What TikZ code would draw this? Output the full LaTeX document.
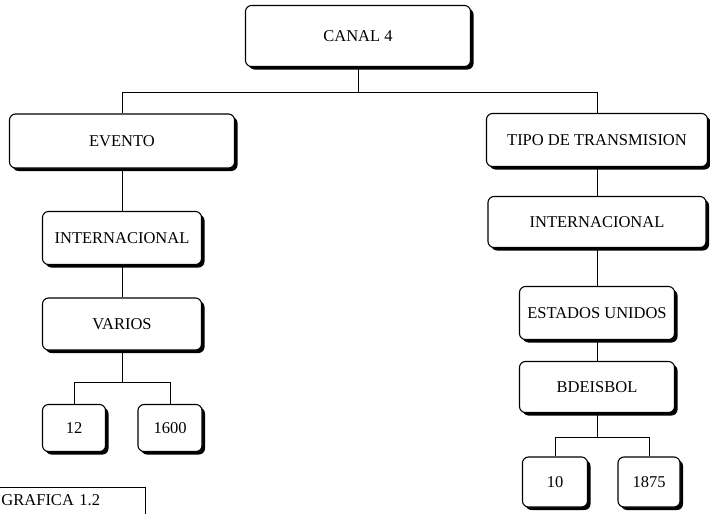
\documentclass[tikz,border=0pt]{standalone}
\usepackage{fontspec}
\setmainfont{Liberation Serif}
\usepackage{tikz}
\usetikzlibrary{shadows}
\usepackage{xcolor}

\tikzset{
  caja/.style={draw,line width=1.1pt,rounded corners=6pt,fill=white,
    drop shadow={shadow xshift=3pt,shadow yshift=-3pt,fill=black,opacity=1},
    font=\fontsize{16.5}{19}\selectfont},
  linea/.style={line width=1pt}
}

\begin{document}
\begin{tikzpicture}[x=1pt,y=-1pt]
\useasboundingbox (0,0) rectangle (710,514);
\clip (0,0) rectangle (710,514);
\node[caja,minimum width=225pt,minimum height=61pt] (canal) at (358,36) {CANAL 4};
\node[caja,minimum width=225pt,minimum height=54pt] (evento) at (122,141) {EVENTO};
\node[caja,minimum width=221pt,minimum height=53pt] (tipo) at (597,140) {TIPO DE TRANSMISION};
\node[caja,minimum width=159pt,minimum height=53pt] (intizq) at (122,238) {INTERNACIONAL};
\node[caja,minimum width=218pt,minimum height=51pt] (intder) at (597,222) {INTERNACIONAL};
\node[caja,minimum width=159pt,minimum height=52pt] (varios) at (122,324) {VARIOS};
\node[caja,minimum width=155pt,minimum height=53pt] (estados) at (597,313) {ESTADOS UNIDOS};
\node[caja,minimum width=155pt,minimum height=51pt] (beisbol) at (597,387) {BDEISBOL};
\node[caja,minimum width=63pt,minimum height=47pt] (doce) at (74,428) {12};
\node[caja,minimum width=64pt,minimum height=47pt] (milseis) at (170,428) {1600};
\node[caja,minimum width=65pt,minimum height=50pt] (diez) at (555,482) {10};
\node[caja,minimum width=62pt,minimum height=50pt] (milocho) at (649,482) {1875};
\node[draw,line width=1pt,anchor=north west,text width=140pt,inner xsep=4pt,inner ysep=7pt,
  text depth=16pt,font=\fontsize{16.5}{19}\selectfont] (grafica) at (-3,487) {GRAFICA 1.2};
% conectores
\draw[linea] (canal.south) -- ++(0,25) -| (evento.north);
\draw[linea] (canal.south) -- ++(0,25) -| (tipo.north);
\draw[linea] (evento) -- (intizq);
\draw[linea] (intizq) -- (varios);
\draw[linea] (varios.south) -- ++(0,32) -| (doce.north);
\draw[linea] (varios.south) -- ++(0,32) -| (milseis.north);
\draw[linea] (tipo) -- (intder);
\draw[linea] (intder) -- (estados);
\draw[linea] (estados) -- (beisbol);
\draw[linea] (beisbol.south) -- ++(0,24) -| (diez.north);
\draw[linea] (beisbol.south) -- ++(0,24) -| (milocho.north);
\end{tikzpicture}
\end{document}
